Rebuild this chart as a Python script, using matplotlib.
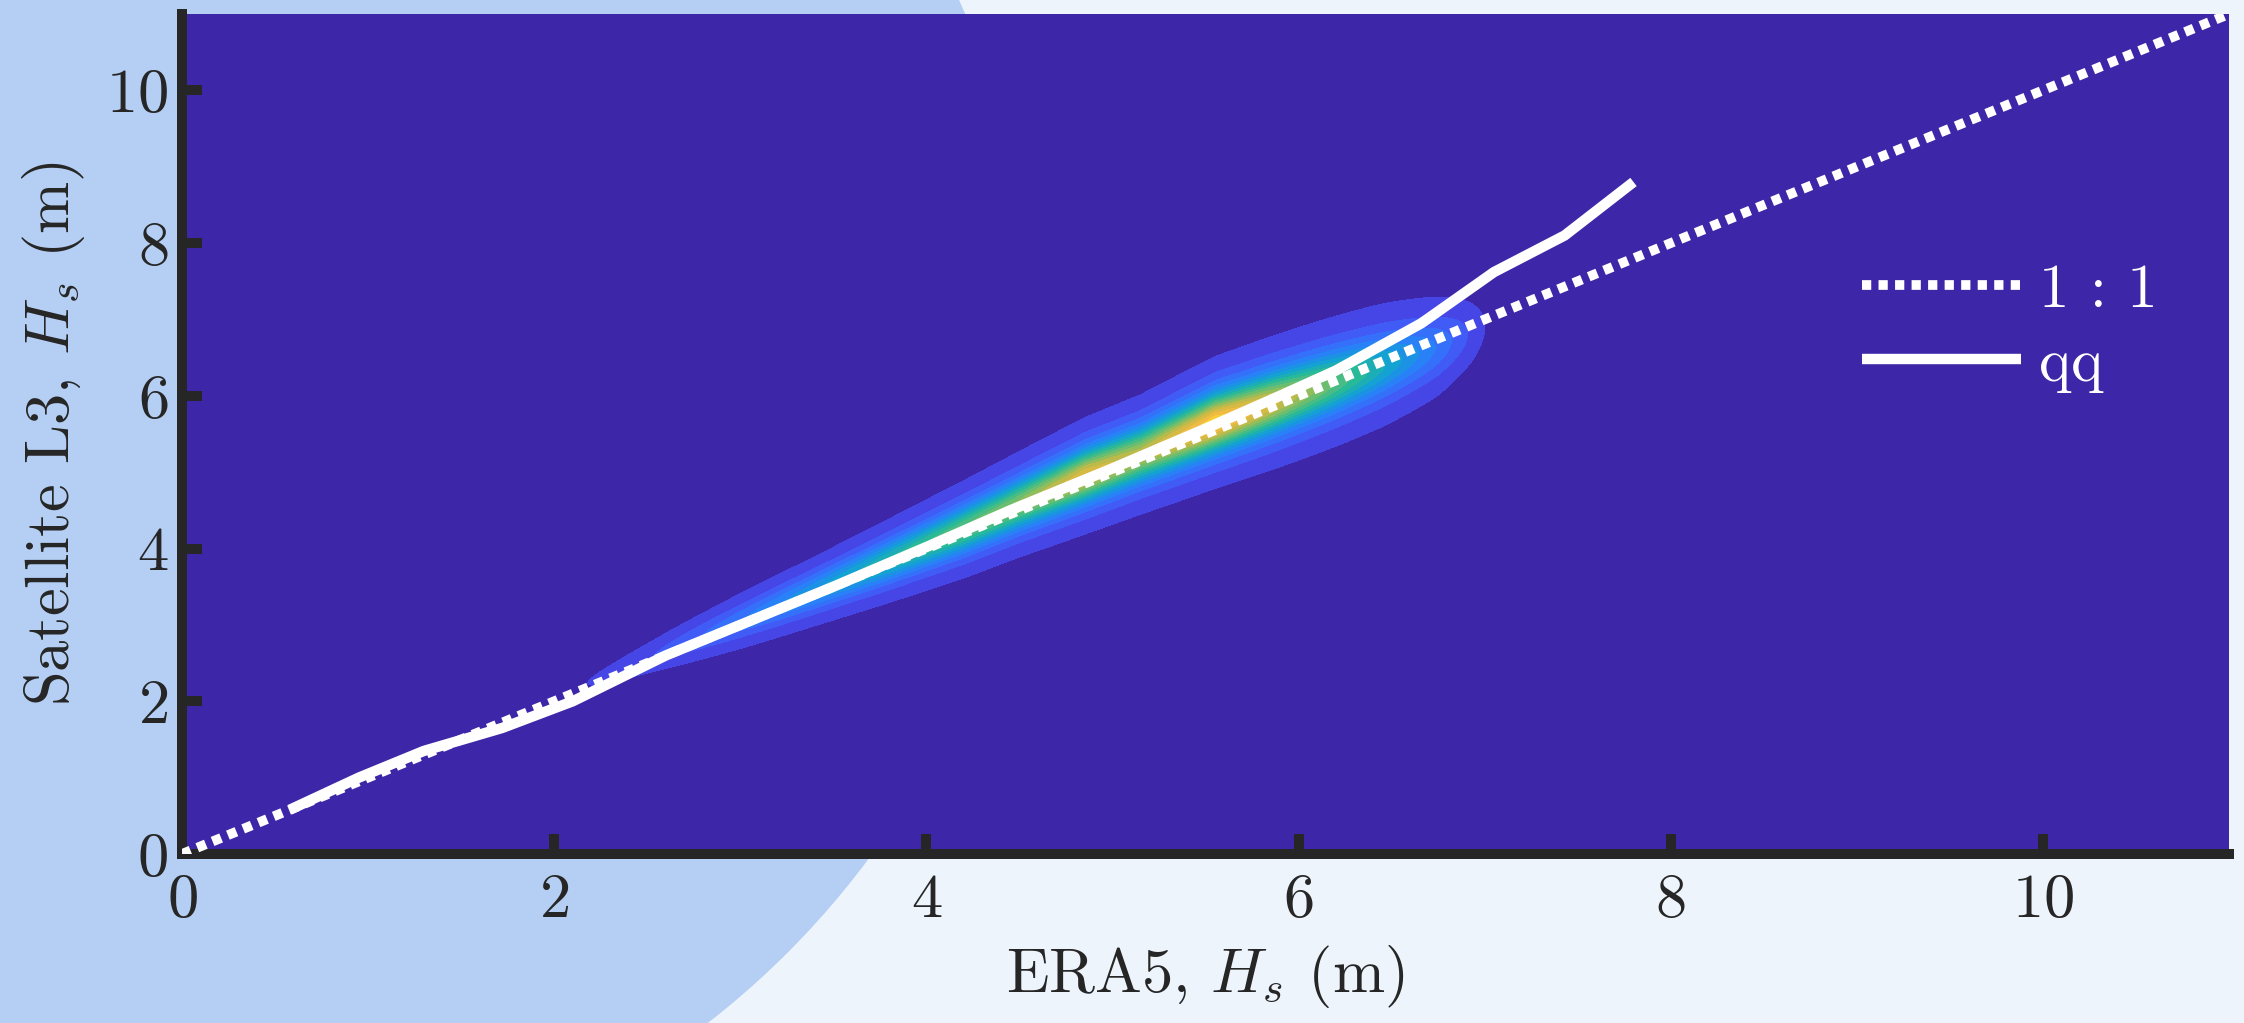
import numpy as np
import matplotlib
matplotlib.use("Agg")
import matplotlib.pyplot as plt
from matplotlib.colors import LinearSegmentedColormap, Normalize
from matplotlib.patches import Ellipse

plt.rcParams['font.family'] = ['cmr10', 'DejaVu Serif']
plt.rcParams['mathtext.fontset'] = 'cm'
plt.rcParams['axes.formatter.use_mathtext'] = True
plt.rcParams['axes.unicode_minus'] = False

# ---------------- data ----------------
x_ticks = [0, 2, 4, 6, 8, 10]
y_ticks = [0, 2, 4, 6, 8, 10]
x_label = r"ERA5, $H_s$ (m)"
y_label = r"Satellite L3, $H_s$ (m)"
legend_labels = ["1 : 1", "qq"]

one_to_one = [0, 11]

qq_x = [0.58, 0.95, 1.30, 1.72, 2.10, 2.60, 3.00, 3.50, 4.00, 4.45, 5.00, 5.50, 5.90, 6.20, 6.66, 7.05, 7.43, 7.80]
qq_y = [0.58, 1.00, 1.35, 1.65, 2.00, 2.60, 3.00, 3.50, 4.02, 4.50, 5.05, 5.57, 6.00, 6.33, 6.95, 7.62, 8.10, 8.80]

# density ridge: position, peak density, centre offset (y-x), spread
dens_x      = [2.00, 2.30, 2.60, 3.00, 3.40, 3.80, 4.20, 4.50, 4.85, 5.15, 5.55, 5.85, 6.15, 6.45, 6.75, 6.95, 7.05]
dens_peak   = [0.00, 0.05, 0.10, 0.20, 0.32, 0.45, 0.58, 0.65, 0.80, 0.72, 0.92, 0.78, 0.60, 0.40, 0.20, 0.06, 0.00]
dens_offset = [0.05, 0.06, 0.06, 0.05, 0.04, 0.04, 0.05, 0.08, 0.10, 0.08, 0.10, 0.05, 0.00, -0.05, -0.10, -0.10, -0.10]
dens_sigma  = [0.07, 0.09, 0.12, 0.14, 0.15, 0.165, 0.18, 0.19, 0.20, 0.21, 0.22, 0.23, 0.24, 0.25, 0.25, 0.23, 0.20]

# ---------------- colours ----------------
parula_pts = [
    (0.000, (0.2422, 0.1504, 0.6603)),
    (0.060, (0.2700, 0.2150, 0.8300)),
    (0.125, (0.2810, 0.3228, 0.9579)),
    (0.250, (0.1707, 0.4893, 0.9877)),
    (0.375, (0.0689, 0.6275, 0.8354)),
    (0.500, (0.1540, 0.7253, 0.6034)),
    (0.625, (0.4420, 0.7481, 0.4224)),
    (0.750, (0.7763, 0.7286, 0.2709)),
    (0.875, (0.9856, 0.7372, 0.2537)),
    (0.940, (0.9610, 0.8880, 0.1530)),
    (1.000, (0.9769, 0.9839, 0.0805)),
]
parula = LinearSegmentedColormap.from_list("parula", parula_pts)
ink = "#262626"
fig_bg = "#eef4fc"
circle_c = "#b4cff3"

W, H, DPI = 2244, 1023, 100
fig = plt.figure(figsize=(W / DPI, H / DPI), dpi=DPI, facecolor=fig_bg)
circ = Ellipse((188 / W, (H - 353) / H), width=2 * 848 / W, height=2 * 848 / H,
               transform=fig.transFigure, facecolor=circle_c, edgecolor="none", zorder=0)
fig.add_artist(circ)

ax = fig.add_axes([182 / W, 1 - 854 / H, (2229 - 182) / W, (854 - 14) / H])
ax.set_facecolor(parula(0.0))

gx = np.linspace(0, 11, 800)
gy = np.linspace(0, 11, 800)
X, Y = np.meshgrid(gx, gy)
pk = np.interp(X, dens_x, dens_peak, left=0, right=0)
off = np.interp(X, dens_x, dens_offset)
sg = np.interp(X, dens_x, dens_sigma)
V = (Y - X - off) / sg
Z = pk * (0.65 * np.exp(-0.5 * V ** 2) + 0.35 * np.exp(-0.5 * (V / 1.8) ** 2))
levels = np.arange(0.03, 0.96, 0.06)
ax.contourf(X, Y, Z, levels=levels, cmap=parula, norm=Normalize(-0.04, 1.0), zorder=1)

l1, = ax.plot(one_to_one, one_to_one, color="white", lw=7.0, zorder=3,
              dashes=(0.95, 0.75), dash_capstyle="butt")
l2, = ax.plot(qq_x, qq_y, color="white", lw=7.5, zorder=4, solid_capstyle="butt",
              solid_joinstyle="miter")

ax.set_xlim(0, 11)
ax.set_ylim(0, 11)
ax.set_xticks(x_ticks)
ax.set_yticks(y_ticks)
for s in ("top", "right"):
    ax.spines[s].set_visible(False)
for s in ("left", "bottom"):
    ax.spines[s].set_linewidth(7.2)
    ax.spines[s].set_color(ink)
    ax.spines[s].set_capstyle("projecting")
ax.tick_params(direction="in", length=14.5, width=7.2, color=ink, labelcolor=ink,
               labelsize=45)
ax.tick_params(axis="x", pad=14)
ax.tick_params(axis="y", pad=10)
ax.set_xlabel(x_label, fontsize=45, color=ink, labelpad=10)
ax.set_ylabel(y_label, fontsize=45, color=ink, labelpad=14)

leg = ax.legend([l1, l2], legend_labels, loc="center left",
                bbox_to_anchor=((1862 - 182) / (2229 - 182), (854 - 328) / (854 - 14)),
                frameon=False, fontsize=44, handlelength=2.6, handletextpad=0.3,
                labelspacing=0.3, borderpad=0, borderaxespad=0)
for t in leg.get_texts():
    t.set_color("white")

fig.savefig("out.png", dpi=DPI, facecolor=fig_bg)
